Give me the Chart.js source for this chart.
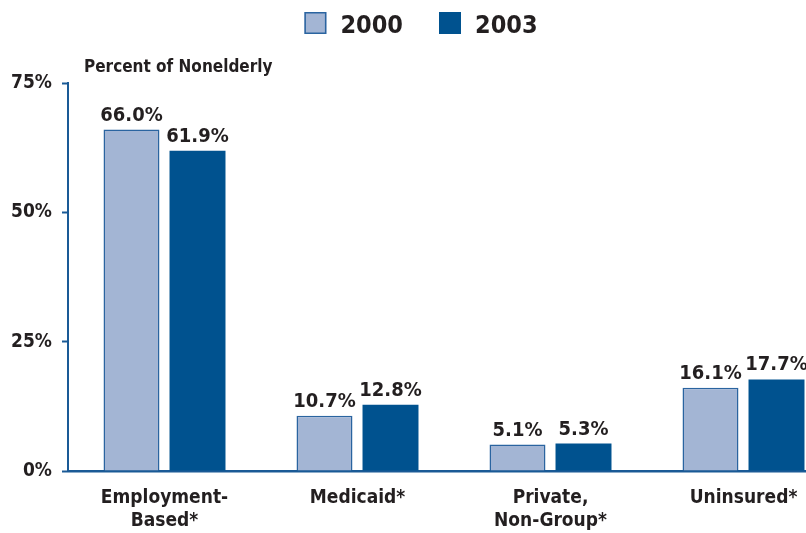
<!DOCTYPE html>
<html>
<head>
<meta charset="utf-8">
<script src="https://cdn.jsdelivr.net/npm/chart.js@4.4.0/dist/chart.umd.min.js"></script>
<style>
  html, body { margin: 0; padding: 0; background: #fff; overflow: hidden; }
  #wrap { width: 806px; height: 533px; overflow: hidden; }
  canvas { display: block; }
</style>
</head>
<body>
<div id="wrap"><canvas id="coverage" width="842" height="533"></canvas></div>
<script>
const categories = [['Employment-', 'Based*'], 'Medicaid*', ['Private,', 'Non-Group*'], 'Uninsured*'];
const years = ['2000', '2003'];
const values2000 = [66.0, 10.7, 5.1, 16.1];
const values2003 = [61.9, 12.8, 5.3, 17.7];
const yTicks = [0, 25, 50, 75];

const FONT = "'Liberation Sans Narrow', 'DejaVu Sans Condensed', 'Arial Narrow', sans-serif";
const TEXT = '#231f20';
const AXIS = '#1a5a96';
const LIGHT = '#a3b5d4';
const LIGHT_EDGE = '#2a64a0';
const DARK = '#00528f';

// value labels above every bar
const barLabels = {
    id: 'barLabels',
    afterDatasetsDraw(chart) {
        const ctx = chart.ctx;
        ctx.save();
        ctx.font = `bold 20px ${FONT}`;
        ctx.fillStyle = TEXT;
        ctx.textAlign = 'center';
        ctx.textBaseline = 'alphabetic';
        chart.data.datasets.forEach((ds, i) => {
            chart.getDatasetMeta(i).data.forEach((bar, j) => {
                ctx.fillText(ds.data[j].toFixed(1) + '%', bar.x, bar.y - 9);
            });
        });
        ctx.restore();
    }
};

// legend row across the top, centred on the canvas
const topLegend = {
    id: 'topLegend',
    afterDraw(chart) {
        const ctx = chart.ctx;
        const box = 22, gapText = 14, gapItem = 36;
        ctx.save();
        ctx.font = `bold 25px ${FONT}`;
        ctx.textBaseline = 'alphabetic';
        ctx.textAlign = 'left';
        const items = chart.data.datasets.map(ds => ({ ds, w: ctx.measureText(ds.label).width }));
        const total = items.reduce((s, it) => s + box + gapText + it.w, 0) + gapItem * (items.length - 1);
        let x = chart.width / 2 - total / 2;
        items.forEach(it => {
            ctx.fillStyle = it.ds.backgroundColor;
            ctx.fillRect(x, 12, box, box);
            ctx.strokeStyle = it.ds.borderColor;
            ctx.lineWidth = 1.5;
            ctx.strokeRect(x + 0.75, 12.75, box - 1.5, box - 1.5);
            ctx.fillStyle = TEXT;
            ctx.fillText(it.ds.label, x + box + gapText, 33);
            x += box + gapText + it.w + gapItem;
        });
        ctx.restore();
    }
};

// axis caption sitting above the plot area
const axisCaption = {
    id: 'axisCaption',
    afterDraw(chart) {
        const ctx = chart.ctx;
        ctx.save();
        ctx.font = `bold 17px ${FONT}`;
        ctx.fillStyle = TEXT;
        ctx.textAlign = 'left';
        ctx.textBaseline = 'alphabetic';
        ctx.fillText('Percent of Nonelderly', chart.chartArea.left + 16, chart.chartArea.top - 11);
        ctx.restore();
    }
};

new Chart(document.getElementById('coverage'), {
    type: 'bar',
    data: {
        labels: categories,
        datasets: [
            {
                label: years[0],
                data: values2000,
                backgroundColor: LIGHT,
                borderColor: LIGHT_EDGE,
                borderWidth: 1.5,
                borderSkipped: 'bottom'
            },
            {
                label: years[1],
                data: values2003,
                backgroundColor: DARK,
                borderColor: DARK,
                borderWidth: 0
            }
        ]
    },
    options: {
        responsive: false,
        animation: false,
        categoryPercentage: 0.684,
        barPercentage: 0.848,
        layout: { padding: { top: 83, right: 2, left: 0, bottom: 0 } },
        plugins: {
            legend: { display: false },
            tooltip: { enabled: false }
        },
        scales: {
            x: {
                grid: { display: false },
                border: { color: AXIS, width: 2.5 },
                ticks: {
                    color: TEXT,
                    padding: 8,
                    font: { family: FONT, size: 19, weight: 'bold', lineHeight: 1.2 },
                    maxRotation: 0
                },
                afterFit(scale) { scale.height = 62; }
            },
            y: {
                min: 0,
                max: 75,
                afterBuildTicks(scale) { scale.ticks = yTicks.map(v => ({ value: v })); },
                grid: {
                    drawOnChartArea: false,
                    drawTicks: true,
                    tickLength: 6,
                    tickWidth: 2,
                    color: AXIS
                },
                border: { color: AXIS, width: 2 },
                ticks: {
                    color: TEXT,
                    padding: 10,
                    font: { family: FONT, size: 19, weight: 'bold' },
                    callback: v => v + '%'
                },
                afterFit(scale) { scale.width = 68; }
            }
        }
    },
    plugins: [barLabels, topLegend, axisCaption]
});
</script>
</body>
</html>
